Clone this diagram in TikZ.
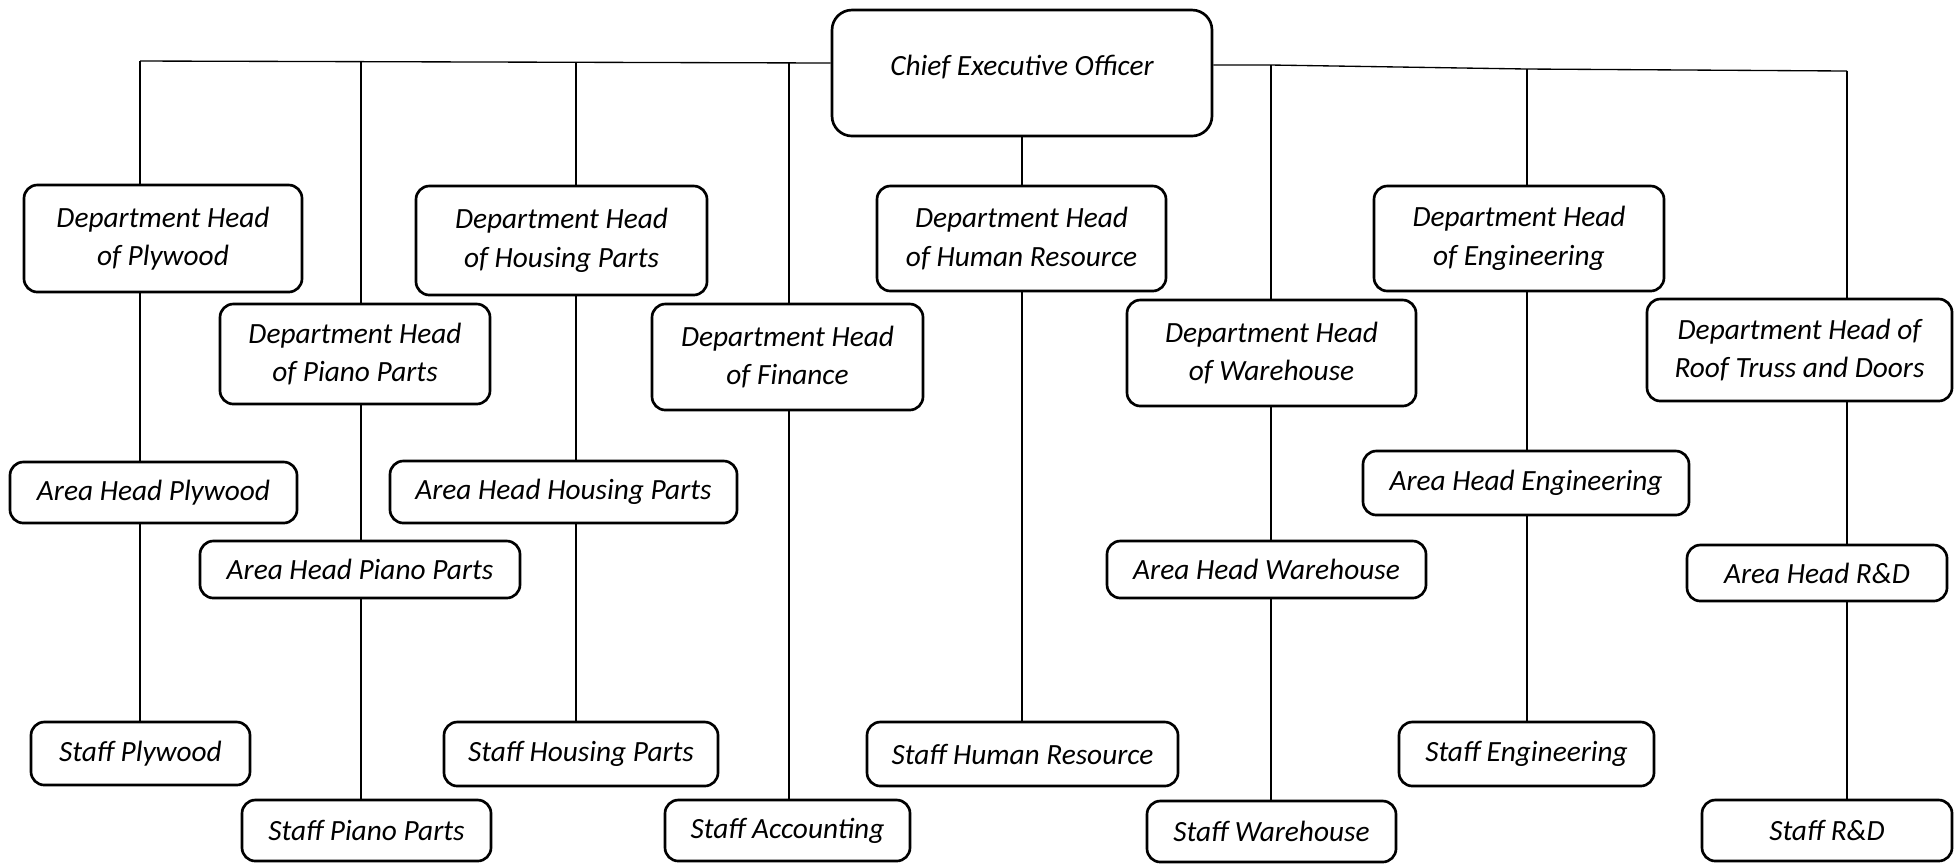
\documentclass[tikz,border=0pt]{standalone}
\usepackage{fontspec}
\setmainfont{Carlito}

\begin{document}
\begin{tikzpicture}[x=0.3pt, y=-0.3pt,
    box/.style={draw, fill=white, rounded corners=4pt, line width=0.8pt, align=center, inner sep=1pt,
        font=\itshape\fontsize{8.8}{11.6}\selectfont},
    link/.style={line width=0.4pt}]
        \useasboundingbox (0,0) rectangle (1959,863);

        % top
        \node[box, rounded corners=6pt, minimum width=114pt, minimum height=37.8pt] (ceo) at (1022,73) {\raisebox{4.5pt}{Chief Executive Officer}};

        % department heads
        \node[box, minimum width=83.4pt, minimum height=32.1pt] (dply) at (163,238.5) {Department Head\\of Plywood};
        \node[box, minimum width=81pt, minimum height=30pt] (dpia) at (355,354) {Department Head\\of Piano Parts};
        \node[box, minimum width=87.3pt, minimum height=32.7pt] (dhou) at (561.5,240.5) {Department Head\\of Housing Parts};
        \node[box, minimum width=81.3pt, minimum height=31.8pt] (dfin) at (787.5,357) {Department Head\\of Finance};
        \node[box, minimum width=86.7pt, minimum height=31.5pt] (dhr) at (1021.5,238.5) {Department Head\\of Human Resource};
        \node[box, minimum width=86.7pt, minimum height=31.8pt] (dwh) at (1271.5,353) {Department Head\\of Warehouse};
        \node[box, minimum width=87pt, minimum height=31.5pt] (deng) at (1519,238.5) {Department Head\\of Engineering};
        \node[box, minimum width=91.5pt, minimum height=30.6pt] (droof) at (1799.5,350) {Department Head of\\Roof Truss and Doors};

        % area heads
        \node[box, minimum width=86.1pt, minimum height=18.3pt] (aply) at (153.5,492.5) {Area Head Plywood};
        \node[box, minimum width=96pt, minimum height=17.1pt] (apia) at (360,569.5) {Area Head Piano Parts};
        \node[box, minimum width=104.1pt, minimum height=18.6pt] (ahou) at (563.5,492) {Area Head Housing Parts};
        \node[box, minimum width=95.7pt, minimum height=17.1pt] (awh) at (1266.5,569.5) {Area Head Warehouse};
        \node[box, minimum width=97.8pt, minimum height=19.2pt] (aeng) at (1526,483) {Area Head Engineering};
        \node[box, minimum width=78pt, minimum height=16.8pt] (ard) at (1817,573) {Area Head R\&D};

        % staff
        \node[box, minimum width=65.7pt, minimum height=18.9pt] (sply) at (140.5,753.5) {Staff Plywood};
        \node[box, minimum width=74.7pt, minimum height=18.3pt] (spia) at (366.5,830.5) {Staff Piano Parts};
        \node[box, minimum width=82.2pt, minimum height=19.2pt] (shou) at (581,754) {Staff Housing Parts};
        \node[box, minimum width=73.5pt, minimum height=18.3pt] (sacc) at (787.5,830.5) {Staff Accounting};
        \node[box, minimum width=93.3pt, minimum height=19.2pt] (shr) at (1022.5,754) {Staff Human Resource};
        \node[box, minimum width=74.7pt, minimum height=18.3pt] (swh) at (1271.5,831.5) {Staff Warehouse};
        \node[box, minimum width=76.5pt, minimum height=19.2pt] (seng) at (1526.5,754) {Staff Engineering};
        \node[box, minimum width=75pt, minimum height=18.3pt] (srd) at (1827,830.5) {Staff R\&D};

        % bus line
        \coordinate (bply) at (140,61);
        \coordinate (bpia) at (361,62);
        \coordinate (bhou) at (576,62);
        \coordinate (bfin) at (789,63);
        \coordinate (bwh) at (1271,65);
        \coordinate (beng) at (1527,69);
        \coordinate (broof) at (1847,71);

        \draw[link] (ceo.west |- bfin) -- (bply)
            (ceo.east |- bwh) -- (bwh) -- (beng) -- (broof);

        % columns
        \draw[link] (bply) -- (bply |- dply.north)
            (bply |- dply.south) -- (bply |- aply.north)
            (bply |- aply.south) -- (bply |- sply.north);
        \draw[link] (bpia) -- (bpia |- dpia.north)
            (bpia |- dpia.south) -- (bpia |- apia.north)
            (bpia |- apia.south) -- (bpia |- spia.north);
        \draw[link] (bhou) -- (bhou |- dhou.north)
            (bhou |- dhou.south) -- (bhou |- ahou.north)
            (bhou |- ahou.south) -- (bhou |- shou.north);
        \draw[link] (bfin) -- (bfin |- dfin.north)
            (bfin |- dfin.south) -- (bfin |- sacc.north);
        \draw[link] (ceo.south) -- (ceo.south |- dhr.north)
            (ceo.south |- dhr.south) -- (ceo.south |- shr.north);
        \draw[link] (bwh) -- (bwh |- dwh.north)
            (bwh |- dwh.south) -- (bwh |- awh.north)
            (bwh |- awh.south) -- (bwh |- swh.north);
        \draw[link] (beng) -- (beng |- deng.north)
            (beng |- deng.south) -- (beng |- aeng.north)
            (beng |- aeng.south) -- (beng |- seng.north);
        \draw[link] (broof) -- (broof |- droof.north)
            (broof |- droof.south) -- (broof |- ard.north)
            (broof |- ard.south) -- (broof |- srd.north);
    \end{tikzpicture}
\end{document}
